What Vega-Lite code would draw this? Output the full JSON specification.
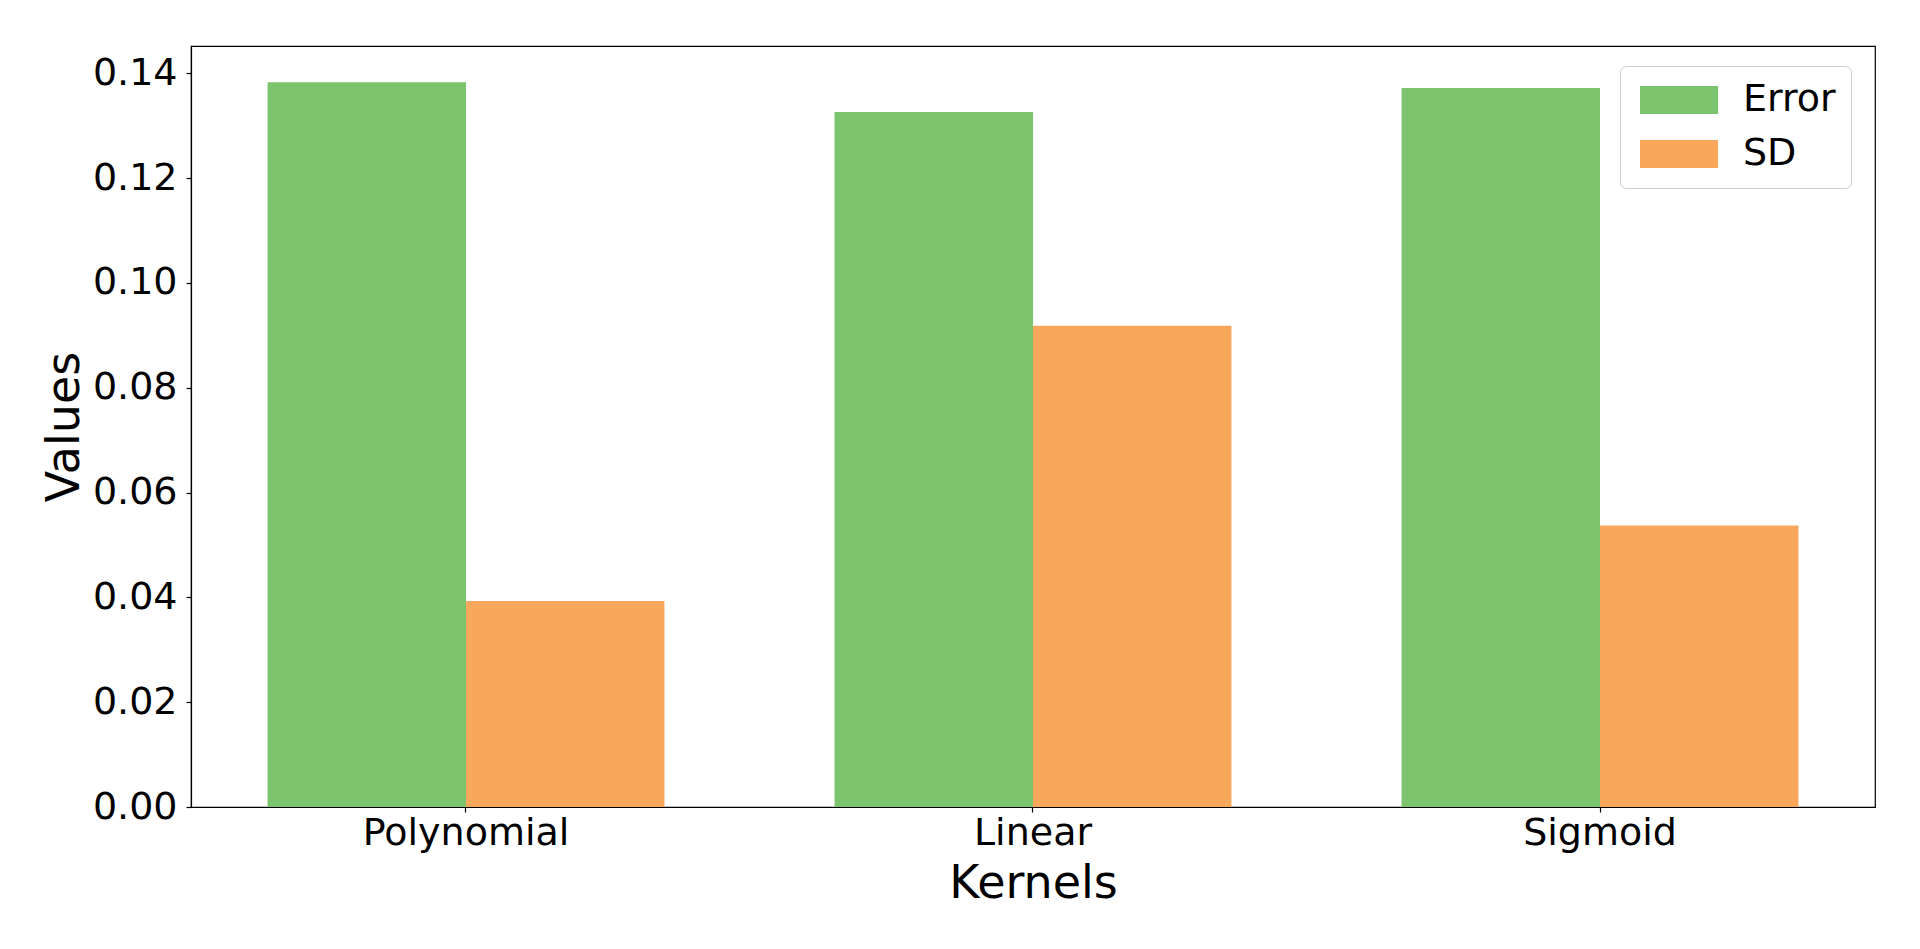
{
  "$schema": "https://vega.github.io/schema/vega-lite/v6.json",
  "width": 1684,
  "height": 761,
  "autosize": {"type": "none"},
  "padding": {"left": 191, "top": 46, "right": 45, "bottom": 142},
  "background": "white",
  "config": {
    "font": "DejaVu Sans",
    "view": {"stroke": "black", "strokeWidth": 1.2},
    "axis": {"grid": false, "domainColor": "black", "tickColor": "black", "labelColor": "black", "titleColor": "black", "titleFontWeight": "normal", "domainWidth": 1.2, "tickWidth": 1.2}
  },
  "data": {
    "values": [
      {"kernel": "Polynomial", "metric": "Error", "value": 0.1383},
      {"kernel": "Polynomial", "metric": "SD", "value": 0.0393},
      {"kernel": "Linear", "metric": "Error", "value": 0.1326},
      {"kernel": "Linear", "metric": "SD", "value": 0.0918},
      {"kernel": "Sigmoid", "metric": "Error", "value": 0.1372},
      {"kernel": "Sigmoid", "metric": "SD", "value": 0.0537}
    ]
  },
  "mark": {"type": "bar"},
  "encoding": {
    "x": {
      "field": "kernel",
      "type": "nominal",
      "sort": ["Polynomial", "Linear", "Sigmoid"],
      "scale": {"paddingInner": 0.3, "paddingOuter": 0.135},
      "axis": {"title": "Kernels", "labelAngle": 0, "labelLimit": 0, "labelFontSize": 38, "titleFontSize": 46, "tickSize": 5, "labelPadding": 2, "titlePadding": 9}
    },
    "xOffset": {
      "field": "metric",
      "type": "nominal",
      "sort": ["Error", "SD"],
      "scale": {"paddingInner": 0, "paddingOuter": 0}
    },
    "y": {
      "field": "value",
      "type": "quantitative",
      "scale": {"domain": [0, 0.1452], "nice": false, "zero": true},
      "axis": {"title": "Values", "values": [0, 0.02, 0.04, 0.06, 0.08, 0.1, 0.12, 0.14], "format": ".2f", "labelFontSize": 38, "titleFontSize": 46, "tickSize": 5, "labelPadding": 9, "titlePadding": 4}
    },
    "color": {
      "field": "metric",
      "type": "nominal",
      "sort": ["Error", "SD"],
      "scale": {"domain": ["Error", "SD"], "range": ["#7bc36c", "#f9a85b"]},
      "legend": {
        "title": null,
        "orient": "none",
        "legendX": 1429,
        "legendY": 20,
        "direction": "vertical",
        "symbolType": "M-1,-1L4.571,-1L4.571,1L-1,1Z",
        "symbolSize": 784,
        "symbolStrokeWidth": 0,
        "symbolOpacity": 1,
        "labelFontSize": 38,
        "labelColor": "black",
        "labelOffset": 70,
        "labelLimit": 0,
        "rowPadding": 16,
        "padding": 15,
        "strokeColor": "#cccccc",
        "fillColor": "white",
        "cornerRadius": 6
      }
    }
  }
}
